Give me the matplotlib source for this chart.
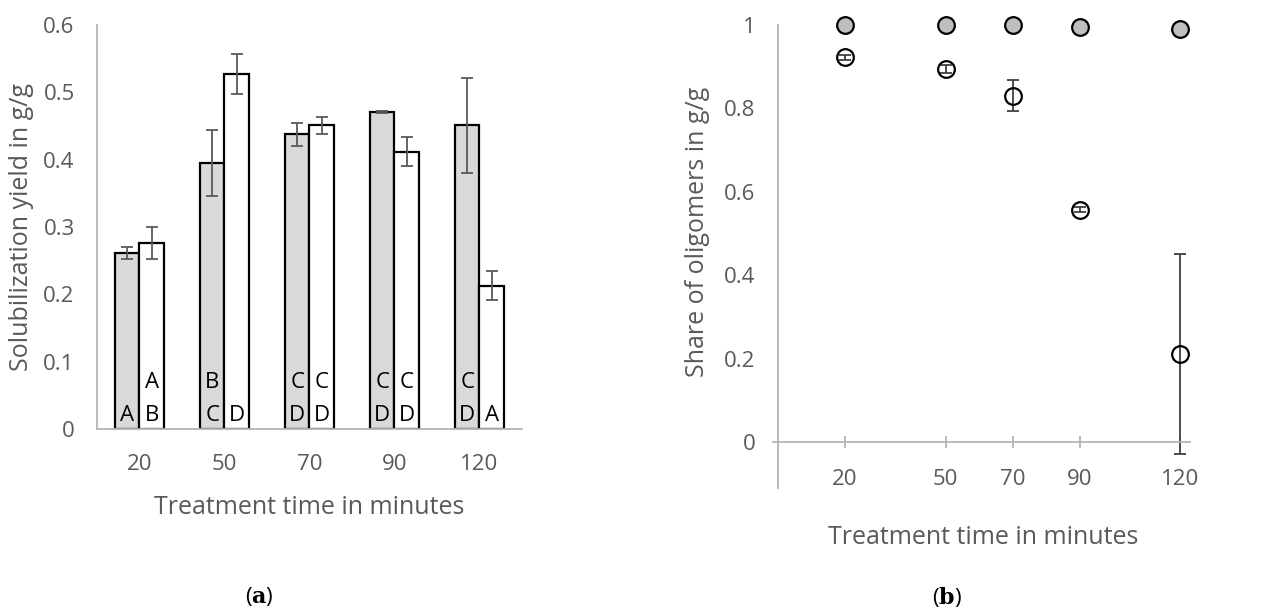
import matplotlib.pyplot as plt
import numpy as np

plt.rcParams['font.family'] = ['Open Sans', 'DejaVu Sans']
plt.rcParams['mathtext.fontset'] = 'dejavuserif'

# data
times = ['20', '50', '70', '90', '120']
time_min = [20, 50, 70, 90, 120]

# (a) solubilization yield
yield_grey = [0.261, 0.395, 0.438, 0.471, 0.451]
err_grey = [0.009, 0.049, 0.017, 0.002, 0.071]
yield_white = [0.276, 0.527, 0.451, 0.412, 0.213]
err_white = [0.024, 0.030, 0.013, 0.022, 0.022]
letters_grey = [['A'], ['B', 'C'], ['C', 'D'], ['C', 'D'], ['C', 'D']]
letters_white = [['A', 'B'], ['D'], ['C', 'D'], ['C', 'D'], ['A']]

# (b) share of oligomers
share_grey = [1.0, 1.0, 1.0, 0.995, 0.990]
share_white = [0.923, 0.895, 0.831, 0.557, 0.212]
share_white_err = [0.006, 0.010, 0.038, 0.006, 0.240]

txt = '#595959'
axc = '#b4b4b4'

fig = plt.figure(figsize=(12.79, 6.07), dpi=100)

# ---- panel a
ax1 = fig.add_axes([0.0758, 0.2932, 0.3323, 0.6656])
x = np.arange(len(times))
w = 0.288
ax1.bar(x - w/2, yield_grey, w, color='#d9d9d9', edgecolor='black', linewidth=1.6, zorder=2)
ax1.bar(x + w/2, yield_white, w, color='white', edgecolor='black', linewidth=1.6, zorder=2)
ax1.errorbar(x - w/2, yield_grey, yerr=err_grey, fmt='none', ecolor='#595959',
             elinewidth=1.3, capsize=4, capthick=1.3, zorder=3)
ax1.errorbar(x + w/2, yield_white, yerr=err_white, fmt='none', ecolor='#595959',
             elinewidth=1.3, capsize=4, capthick=1.3, zorder=3)

for i in range(len(times)):
    for pos, lets in ((x[i] - w/2, letters_grey[i]), (x[i] + w/2, letters_white[i])):
        n = len(lets)
        for j, l in enumerate(lets):
            yy = 0.005 + (n - 1 - j) * 0.049
            ax1.text(pos, yy, l, ha='center', va='bottom', fontsize=16, color='black', zorder=4)

ax1.set_xlim(-0.5, 4.5)
ax1.set_ylim(0, 0.6)
ax1.set_xticks(x)
ax1.set_xticklabels(times)
ax1.set_yticks([0, 0.1, 0.2, 0.3, 0.4, 0.5, 0.6])
ax1.set_yticklabels(['0', '0.1', '0.2', '0.3', '0.4', '0.5', '0.6'])
ax1.tick_params(axis='both', length=0, labelsize=16, labelcolor=txt)
ax1.tick_params(axis='x', pad=18)
ax1.tick_params(axis='y', pad=16)
for s in ['top', 'right']:
    ax1.spines[s].set_visible(False)
for s in ['left', 'bottom']:
    ax1.spines[s].set_color(axc)
    ax1.spines[s].set_linewidth(1.3)
fig.text(0.242, 1 - 508/607, 'Treatment time in minutes', ha='center', va='center',
         fontsize=18, color=txt)
fig.text(0.017, 1 - 227/607, 'Solubilization yield in g/g', ha='center', va='center',
         rotation=90, fontsize=18, color=txt)
fig.text(0.203, 1 - 597/607, r'($\mathbf{a}$)', ha='center', va='center', fontsize=16, color='black')

# ---- panel b
ax2 = fig.add_axes([0.6045, 0.196, 0.3262, 0.7628])
ax2.errorbar(time_min, share_white, yerr=share_white_err, fmt='none', ecolor='#404040',
             elinewidth=1.3, capsize=4, capthick=1.3, zorder=2, clip_on=False)
ax2.plot(time_min, share_white, 'o', ms=12, mfc='none', mec='black', mew=1.6,
         zorder=3, clip_on=False)
ax2.plot(time_min, share_grey, 'o', ms=12, mfc='#bfbfbf', mec='black', mew=1.6,
         zorder=3, clip_on=False)
ax2.set_xlim(-1.4, 123)
ax2.set_ylim(-0.11, 1.0)
ax2.spines['left'].set_position(('data', 0))
ax2.spines['bottom'].set_position(('data', 0))
for s in ['top', 'right']:
    ax2.spines[s].set_visible(False)
for s in ['left', 'bottom']:
    ax2.spines[s].set_color(axc)
    ax2.spines[s].set_linewidth(1.3)
ax2.set_xticks(time_min)
ax2.set_xticklabels(times)
ax2.set_yticks([0, 0.2, 0.4, 0.6, 0.8, 1.0])
ax2.set_yticklabels(['0', '0.2', '0.4', '0.6', '0.8', '1'])
ax2.tick_params(axis='x', direction='inout', length=9, width=1.3, color=axc,
                labelsize=16, labelcolor=txt, pad=15)
ax2.tick_params(axis='y', length=0, labelsize=16, labelcolor=txt, pad=16)
fig.text(0.769, 1 - 538/607, 'Treatment time in minutes', ha='center', va='center',
         fontsize=18, color=txt)
fig.text(0.545, 1 - 232/607, 'Share of oligomers in g/g', ha='center', va='center', rotation=90,
         fontsize=18, color=txt)
fig.text(0.740, 1 - 597/607, r'($\mathbf{b}$)', ha='center', va='center', fontsize=16, color='black')

fig.savefig('out.png', dpi=100)
